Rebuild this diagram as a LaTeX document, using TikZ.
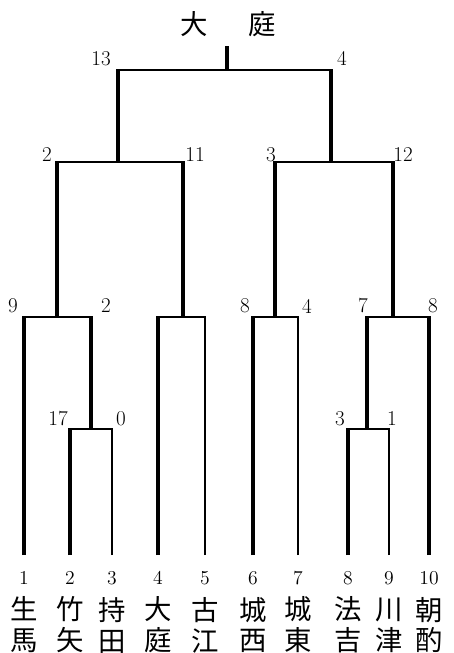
\documentclass[tikz,border=0pt]{standalone}
\usepackage{fontspec}
\newfontfamily\cjk{Noto Sans CJK JP}
\usetikzlibrary{positioning}

\begin{document}
\begin{tikzpicture}[
    x=0.25mm, y=-0.25mm,
    win/.style={line width=2.3pt, shorten >=-0.7pt},
    lose/.style={line width=0.9pt, shorten >=-0.45pt},
    hwin/.style={line width=1.4pt},
    hlose/.style={line width=0.9pt},
    score/.style={font=\fontsize{15}{17}\selectfont, inner sep=0pt},
    seed/.style={font=\fontsize{14}{16}\selectfont, inner sep=0pt},
    team/.style={font=\cjk\fontsize{19.5}{22}\selectfont, align=center, inner sep=0pt}
]
\useasboundingbox (0,0) rectangle (453,653);

% teams
\foreach \i/\x/\a/\b in {1/24/生/馬, 2/70/竹/矢, 3/112/持/田, 4/158/大/庭, 5/205/古/江,
                         6/253/城/西, 7/298/城/東, 8/348/法/吉, 9/389/川/津, 10/429/朝/酌} {
  \coordinate (l\i) at (\x,555);
  \node[seed] (n\i) at (\x,578) {\i};
  \node[team] (t\i) at (\x,625) {\a\\\b};
}

% match points
\coordinate (j23)   at (91,429);
\coordinate (j89)   at (367,429);
\coordinate (j123)  at (57,317);
\coordinate (j45)   at (183,317);
\coordinate (j67)   at (275,317);
\coordinate (j8910) at (393,317);
\coordinate (jl)    at (118,162);
\coordinate (jr)    at (331,162);
\coordinate (jf)    at (227,70);
\coordinate (top)   at (227,47);

% branches: from / to match / upright / across
\foreach \a/\b/\v/\h in {l2/j23/win/hwin, l3/j23/lose/hlose, l8/j89/win/hwin, l9/j89/lose/hlose,
                         l1/j123/win/hwin, j23/j123/win/hlose, l4/j45/win/hwin, l5/j45/lose/hlose,
                         l6/j67/win/hwin, l7/j67/lose/hlose, l10/j8910/win/hwin, j89/j8910/win/hlose,
                         j45/jl/win/hwin, j123/jl/win/hlose, j8910/jr/win/hwin, j67/jr/win/hlose,
                         jl/jf/win/hwin, jr/jf/win/hlose} {
  \draw[\h] (\a|-\b) -- (\b);
  \draw[\v] (\a) -- (\a|-\b);
}
\draw[win] (jf) -- (top);

% scores
\foreach \n/\x/\y/\t in {f1/101/59/13, f2/342/58/4, l1/47/155/2, l2/195/155/11,
                         r1/271/155/3, r2/403/155/12, a1/13/306/9, a2/106/306/2,
                         b1/245/306/8, b2/307/306/4, c1/363/306/7, c2/433/306/8,
                         d1/58/419/17, d2/121/419/0, e1/340/419/3, e2/392/419/1}
  \node[score] (s\n) at (\x,\y) {\t};

\node[team] (title) at (228,24) {大\hspace{1.5em}庭};
\end{tikzpicture}
\end{document}
